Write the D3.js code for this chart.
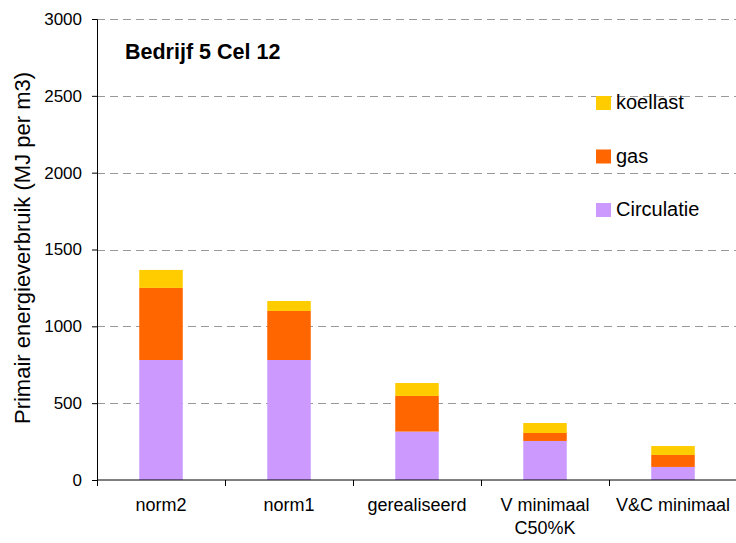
<!DOCTYPE html>
<meta charset="utf-8">
<script src="https://d3js.org/d3.v7.min.js"></script>
<style>
  body { margin: 0; background: #fff; }
  text { font-family: "Liberation Sans", Arial, sans-serif; fill: #000; }
</style>
<svg id="chart" width="736" height="543"></svg>
<script>
// data
var categories = ["norm2", "norm1", "gerealiseerd", "V minimaal\nC50%K", "V&C minimaal"];
var circulatie = [781, 781, 315, 254, 85];
var gas = [469, 319, 232, 52, 78];
var koellast = [117, 65, 84, 65, 58];
var seriesNames = ["Circulatie", "gas", "koellast"];
var yTicks = [0, 500, 1000, 1500, 2000, 2500, 3000];

var colors = { "Circulatie": "#CC99FF", "gas": "#FF6600", "koellast": "#FFCC00" };

var svg = d3.select("#chart");
var margin = { left: 97, right: 0, top: 19, bottom: 63 };
var width = 737 - margin.left, height = 480 - margin.top;

var g = svg.append("g").attr("transform", "translate(" + margin.left + "," + margin.top + ")");

var x = d3.scaleBand().domain(categories).range([0, width]).paddingInner(0.66).paddingOuter(0.33);
var y = d3.scaleLinear().domain([0, 3000]).range([height, 0]);

// table for stacking
var rows = categories.map(function(c, i) {
  return { cat: c, "Circulatie": circulatie[i], "gas": gas[i], "koellast": koellast[i] };
});
var stacked = d3.stack().keys(seriesNames)(rows);

// gridlines
g.selectAll(".grid").data(yTicks.filter(function(d) { return d > 0; }))
  .enter().append("line")
  .attr("x1", 0).attr("x2", width)
  .attr("y1", function(d) { return Math.round(y(d)) + 0.5; })
  .attr("y2", function(d) { return Math.round(y(d)) + 0.5; })
  .attr("stroke", "#999").attr("stroke-width", 1)
  .attr("stroke-dasharray", "8,5");

// bars
g.selectAll(".layer").data(stacked).enter().append("g")
  .attr("fill", function(d) { return colors[d.key]; })
  .selectAll("rect").data(function(d) { return d; })
  .enter().append("rect")
  .attr("x", function(d) { return x(d.data.cat); })
  .attr("width", x.bandwidth())
  .attr("y", function(d) { return y(d[1]); })
  .attr("height", function(d) { return y(d[0]) - y(d[1]); });

// y axis
var yAxis = g.append("g")
  .call(d3.axisLeft(y).tickValues(yTicks).tickSize(5).tickPadding(10).tickFormat(d3.format("d")));
yAxis.select(".domain").attr("stroke", "#000");
yAxis.selectAll("text").style("font-size", "17px").style("font-family", "Liberation Sans, Arial, sans-serif");

// x axis baseline + category ticks
var xAxisG = g.append("g").attr("transform", "translate(0," + height + ")");
xAxisG.append("line").attr("x1", 0).attr("x2", width).attr("y1", 0).attr("y2", 0).attr("stroke", "#000");
var step = x.step();
xAxisG.selectAll(".ct").data(d3.range(categories.length))
  .enter().append("line")
  .attr("x1", function(i) { return x(categories[i]) - x.paddingOuter() * step + 0.5; })
  .attr("x2", function(i) { return x(categories[i]) - x.paddingOuter() * step + 0.5; })
  .attr("y1", 0).attr("y2", 6).attr("stroke", "#000");

xAxisG.selectAll(".cl").data(categories).enter().append("text")
  .attr("text-anchor", "middle")
  .style("font-size", "18px")
  .attr("transform", function(d) { return "translate(" + (x(d) + x.bandwidth() / 2) + ",31)"; })
  .each(function(d) {
    var lines = d.split("\n");
    var t = d3.select(this);
    lines.forEach(function(l, i) {
      t.append("tspan").attr("x", 0).attr("dy", i === 0 ? 0 : 23).text(l);
    });
  });

// y axis title
svg.append("text")
  .attr("transform", "translate(30,248) rotate(-90)")
  .attr("text-anchor", "middle")
  .style("font-size", "22px")
  .text("Primair energieverbruik (MJ per m3)");

// chart title
svg.append("text")
  .attr("x", 125).attr("y", 59)
  .style("font-size", "21.5px").style("font-weight", "bold")
  .text("Bedrijf 5 Cel 12");

// legend
var legendOrder = ["koellast", "gas", "Circulatie"];
var legend = svg.append("g").selectAll("g").data(legendOrder).enter().append("g")
  .attr("transform", function(d, i) { return "translate(596," + (96 + i * 53.5) + ")"; });
legend.append("rect").attr("width", 15).attr("height", 14).attr("fill", function(d) { return colors[d]; });
legend.append("text").attr("x", 20).attr("y", 13).style("font-size", "20px").text(function(d) { return d; });
</script>
